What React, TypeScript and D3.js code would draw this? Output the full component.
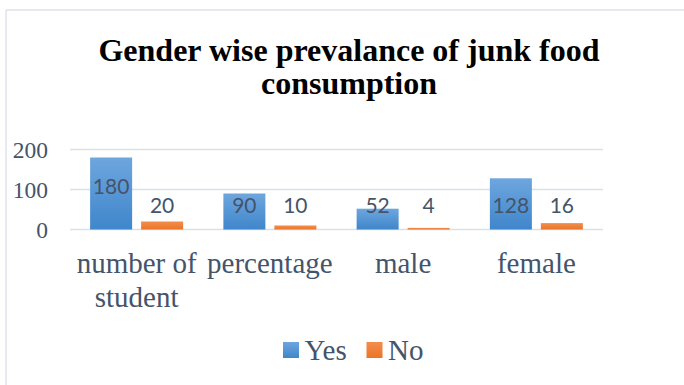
import React from "react";
import * as d3 from "d3";

// Survey counts of junk food consumption
const categories = ["number of student", "percentage", "male", "female"];
const seriesNames = ["Yes", "No"];
const yesValues = [180, 90, 52, 128];
const noValues = [20, 10, 4, 16];
const yTicks = [0, 100, 200];
const titleLines = ["Gender wise prevalance of junk food", "consumption"];

const W = 684;
const H = 385;
const TEXT = "#44546A";
const SERIF = "Liberation Serif";
const SANS = "Lato";

// Category labels wrap onto two lines where needed
const catLines: Record<string, string[]> = {
  "number of student": ["number of", "student"],
};

export default function App() {
  const x = d3.scaleBand<string>().domain(categories).range([70, 603]);
  const y = d3.scaleLinear().domain([0, 200]).range([229.5, 149.5]);
  const barW = 42;
  const gap = 9;
  const groupW = barW * 2 + gap;
  const offset = (x.bandwidth() - groupW) / 2;
  const y0 = y(0);

  const series = [yesValues, noValues];
  const fills = ["url(#gYes)", "url(#gNo)"];

  const labelBaseline = (v: number) => (v > 150 ? y(v) + 36.5 : y0 - 17);

  return (
    <svg
      width={W}
      height={H}
      style={{ position: "absolute", left: 0, top: 0, background: "#fff" }}
    >
      <defs>
        <linearGradient id="gYes" x1="0" y1="0" x2="0" y2="1">
          <stop offset="0%" stopColor="#6EA6DE" />
          <stop offset="100%" stopColor="#3F86CB" />
        </linearGradient>
        <linearGradient id="gNo" x1="0" y1="0" x2="0" y2="1">
          <stop offset="0%" stopColor="#F28E4E" />
          <stop offset="100%" stopColor="#EC7427" />
        </linearGradient>
      </defs>

      {/* chart frame */}
      <line x1={6} x2={6} y1={10} y2={H} stroke="#E1E1EA" strokeWidth={1.5} />
      <line x1={6} x2={W} y1={10} y2={10} stroke="#E1E1EA" strokeWidth={1.5} />

      {/* title */}
      {titleLines.map((t, i) => (
        <text
          key={t}
          x={349}
          y={60.5 + i * 33.5}
          textAnchor="middle"
          fontFamily={SERIF}
          fontWeight="bold"
          fontSize={32}
          fill="#000"
        >
          {t}
        </text>
      ))}

      {/* gridlines and y ticks */}
      {yTicks.map((t) => (
        <g key={t}>
          <line
            x1={70}
            x2={603}
            y1={y(t)}
            y2={y(t)}
            stroke="#DCDFE4"
            strokeWidth={1.5}
          />
          <text
            x={48}
            y={y(t) + 8}
            textAnchor="end"
            fontFamily={SERIF}
            fontSize={23.5}
            fill={TEXT}
          >
            {t}
          </text>
        </g>
      ))}

      {/* bars */}
      {categories.map((c, ci) =>
        series.map((vals, si) => {
          const bx = (x(c) as number) + offset + si * (barW + gap);
          const v = vals[ci];
          return (
            <g key={c + si}>
              <rect
                x={bx}
                y={y(v)}
                width={barW}
                height={y0 - y(v)}
                fill={fills[si]}
              />
              <text
                x={bx + barW / 2}
                y={labelBaseline(v)}
                textAnchor="middle"
                fontFamily={SANS}
                fontSize={21}
                fill={TEXT}
              >
                {v}
              </text>
            </g>
          );
        })
      )}

      {/* category labels */}
      {categories.map((c) => {
        const lines = catLines[c] || [c];
        const cx = (x(c) as number) + x.bandwidth() / 2;
        return lines.map((l, li) => (
          <text
            key={c + li}
            x={cx}
            y={273 + li * 33.5}
            textAnchor="middle"
            fontFamily={SERIF}
            fontSize={29}
            fill={TEXT}
          >
            {l}
          </text>
        ));
      })}

      {/* legend */}
      {seriesNames.map((n, i) => {
        const lx = i === 0 ? 283 : 366.5;
        return (
          <g key={n}>
            <rect x={lx} y={342} width={16} height={16} fill={fills[i]} />
            <text
              x={lx + 21.5}
              y={360}
              fontFamily={SERIF}
              fontSize={29}
              fill={TEXT}
            >
              {n}
            </text>
          </g>
        );
      })}
    </svg>
  );
}
